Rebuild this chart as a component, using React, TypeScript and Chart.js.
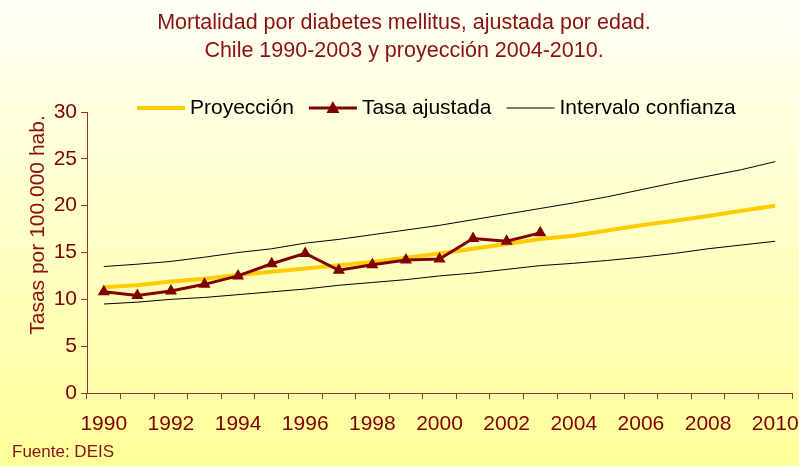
import React, { useEffect, useRef } from "react";
import { Chart, registerables } from "chart.js";

Chart.register(...registerables);

const years = [
  "1990", "1991", "1992", "1993", "1994", "1995", "1996", "1997", "1998", "1999", "2000",
  "2001", "2002", "2003", "2004", "2005", "2006", "2007", "2008", "2009", "2010",
];

// 1990-2003
const tasaAjustada = [10.8, 10.4, 10.9, 11.6, 12.5, 13.8, 14.9, 13.1, 13.7, 14.2, 14.3, 16.5, 16.2, 17.1];

const proyeccion = [
  11.3, 11.5, 11.9, 12.2, 12.6, 12.95, 13.3, 13.65, 14.0, 14.45, 14.9,
  15.4, 15.9, 16.45, 16.8, 17.35, 17.9, 18.4, 18.9, 19.45, 20.0,
];

const icSuperior = [
  13.5, 13.75, 14.05, 14.5, 15.0, 15.4, 16.0, 16.4, 16.9, 17.4, 17.9,
  18.5, 19.1, 19.7, 20.3, 20.95, 21.7, 22.45, 23.15, 23.85, 24.7,
];

const icInferior = [
  9.5, 9.7, 10.0, 10.2, 10.5, 10.8, 11.1, 11.5, 11.8, 12.1, 12.5,
  12.8, 13.2, 13.6, 13.85, 14.15, 14.5, 14.9, 15.4, 15.8, 16.2,
];

const yMin = 0;
const yMax = 30;
const yStep = 5;

const titleLines = [
  "Mortalidad por diabetes mellitus, ajustada por edad.",
  "Chile 1990-2003 y proyección 2004-2010.",
];
const legendLabels = ["Proyección", "Tasa ajustada", "Intervalo confianza"];
const yAxisTitle = "Tasas por 100.000 hab.";
const sourceText = "Fuente: DEIS";

const FONT = "'Liberation Sans', Arial, sans-serif";
const DARK_RED = "#800000";
const TEXT_RED = "#8B1010";
const AXIS_RED = "#9B2F2F";
const YELLOW = "#FFCC00";

const decorPlugin = {
  id: "decor",
  beforeDraw(chart: any) {
    const { ctx, width, height } = chart;
    ctx.save();
    const g = ctx.createLinearGradient(0, 0, 0, height);
    g.addColorStop(0, "#FFFFF6");
    g.addColorStop(1, "#FFFF99");
    ctx.fillStyle = g;
    ctx.fillRect(0, 0, width, height);
    ctx.restore();
  },
  afterDraw(chart: any) {
    const { ctx } = chart;
    ctx.save();
    // Title
    ctx.fillStyle = TEXT_RED;
    ctx.font = `21.5px ${FONT}`;
    ctx.textAlign = "center";
    ctx.textBaseline = "middle";
    ctx.fillText(titleLines[0], 404, 23);
    ctx.fillText(titleLines[1], 404, 51);

    // Legend
    const ly = 108;
    let x = 137;
    const lineLen = 48;
    ctx.font = `21px ${FONT}`;
    ctx.textAlign = "left";
    ctx.textBaseline = "middle";
    const styles = [
      { color: YELLOW, width: 4, marker: false },
      { color: DARK_RED, width: 3, marker: true },
      { color: "#000000", width: 1, marker: false },
    ];
    legendLabels.forEach((lab, i) => {
      const s = styles[i];
      ctx.strokeStyle = s.color;
      ctx.lineWidth = s.width;
      ctx.beginPath();
      ctx.moveTo(x, ly);
      ctx.lineTo(x + lineLen, ly);
      ctx.stroke();
      if (s.marker) {
        const cx = x + lineLen / 2;
        ctx.fillStyle = DARK_RED;
        ctx.beginPath();
        ctx.moveTo(cx, ly - 7);
        ctx.lineTo(cx + 6.5, ly + 5);
        ctx.lineTo(cx - 6.5, ly + 5);
        ctx.closePath();
        ctx.fill();
      }
      x += lineLen + 5;
      ctx.fillStyle = "#000000";
      ctx.fillText(lab, x, ly);
      x += ctx.measureText(lab).width + 15;
    });

    // Y axis title
    ctx.save();
    ctx.translate(38, 225);
    ctx.rotate(-Math.PI / 2);
    ctx.fillStyle = TEXT_RED;
    ctx.font = `21px ${FONT}`;
    ctx.textAlign = "center";
    ctx.textBaseline = "middle";
    ctx.fillText(yAxisTitle, 0, 0);
    ctx.restore();

    // Source
    ctx.fillStyle = TEXT_RED;
    ctx.font = `17px ${FONT}`;
    ctx.textAlign = "left";
    ctx.textBaseline = "middle";
    ctx.fillText(sourceText, 12, 452);
    ctx.restore();
  },
};

export default function App() {
  const ref = useRef<HTMLCanvasElement | null>(null);

  useEffect(() => {
    document.body.style.margin = "0";
    const canvas = ref.current;
    if (!canvas) return;
    const chart = new Chart(canvas, {
      type: "line",
      data: {
        labels: years,
        datasets: [
          {
            label: legendLabels[1],
            data: [...tasaAjustada, ...Array(years.length - tasaAjustada.length).fill(null)],
            borderColor: DARK_RED,
            backgroundColor: DARK_RED,
            borderWidth: 3,
            pointStyle: "triangle",
            pointRadius: 7,
            pointBorderWidth: 0,
            pointBackgroundColor: DARK_RED,
            tension: 0,
            spanGaps: false,
          },
          {
            label: legendLabels[0],
            data: proyeccion,
            borderColor: YELLOW,
            borderWidth: 4,
            pointRadius: 0,
            tension: 0,
          },
          {
            label: legendLabels[2],
            data: icSuperior,
            borderColor: "#000000",
            borderWidth: 1,
            pointRadius: 0,
            tension: 0,
          },
          {
            label: legendLabels[2] + " inf",
            data: icInferior,
            borderColor: "#000000",
            borderWidth: 1,
            pointRadius: 0,
            tension: 0,
          },
        ],
      },
      options: {
        responsive: false,
        animation: false,
        layout: { padding: { top: 112, right: 7, left: 0, bottom: 0 } },
        plugins: {
          legend: { display: false },
          title: { display: false },
          tooltip: { enabled: false },
        },
        scales: {
          x: {
            offset: true,
            grid: {
              offset: true,
              drawOnChartArea: false,
              drawTicks: true,
              tickLength: 6,
              tickColor: AXIS_RED,
              color: AXIS_RED,
            },
            border: { color: AXIS_RED, width: 1 },
            ticks: {
              autoSkip: false,
              maxRotation: 0,
              minRotation: 0,
              padding: 13,
              color: DARK_RED,
              font: { family: FONT, size: 21 },
              callback: (_v: any, i: number) => (i % 2 === 0 ? years[i] : ""),
            },
            afterFit: (s: any) => {
              s.height = 73;
              s.paddingLeft = 0;
              s.paddingRight = 0;
            },
          },
          y: {
            min: yMin,
            max: yMax,
            grid: {
              drawOnChartArea: false,
              drawTicks: true,
              tickLength: 6,
              tickColor: AXIS_RED,
              color: AXIS_RED,
            },
            border: { color: AXIS_RED, width: 1 },
            ticks: {
              stepSize: yStep,
              padding: 4,
              color: DARK_RED,
              font: { family: FONT, size: 21 },
            },
            afterFit: (s: any) => {
              s.width = 87;
              s.paddingTop = 0;
              s.paddingBottom = 0;
            },
          },
        },
      },
      plugins: [decorPlugin],
    });
    return () => chart.destroy();
  }, []);

  return <canvas ref={ref} width={799} height={466} style={{ display: "block" }} />;
}
